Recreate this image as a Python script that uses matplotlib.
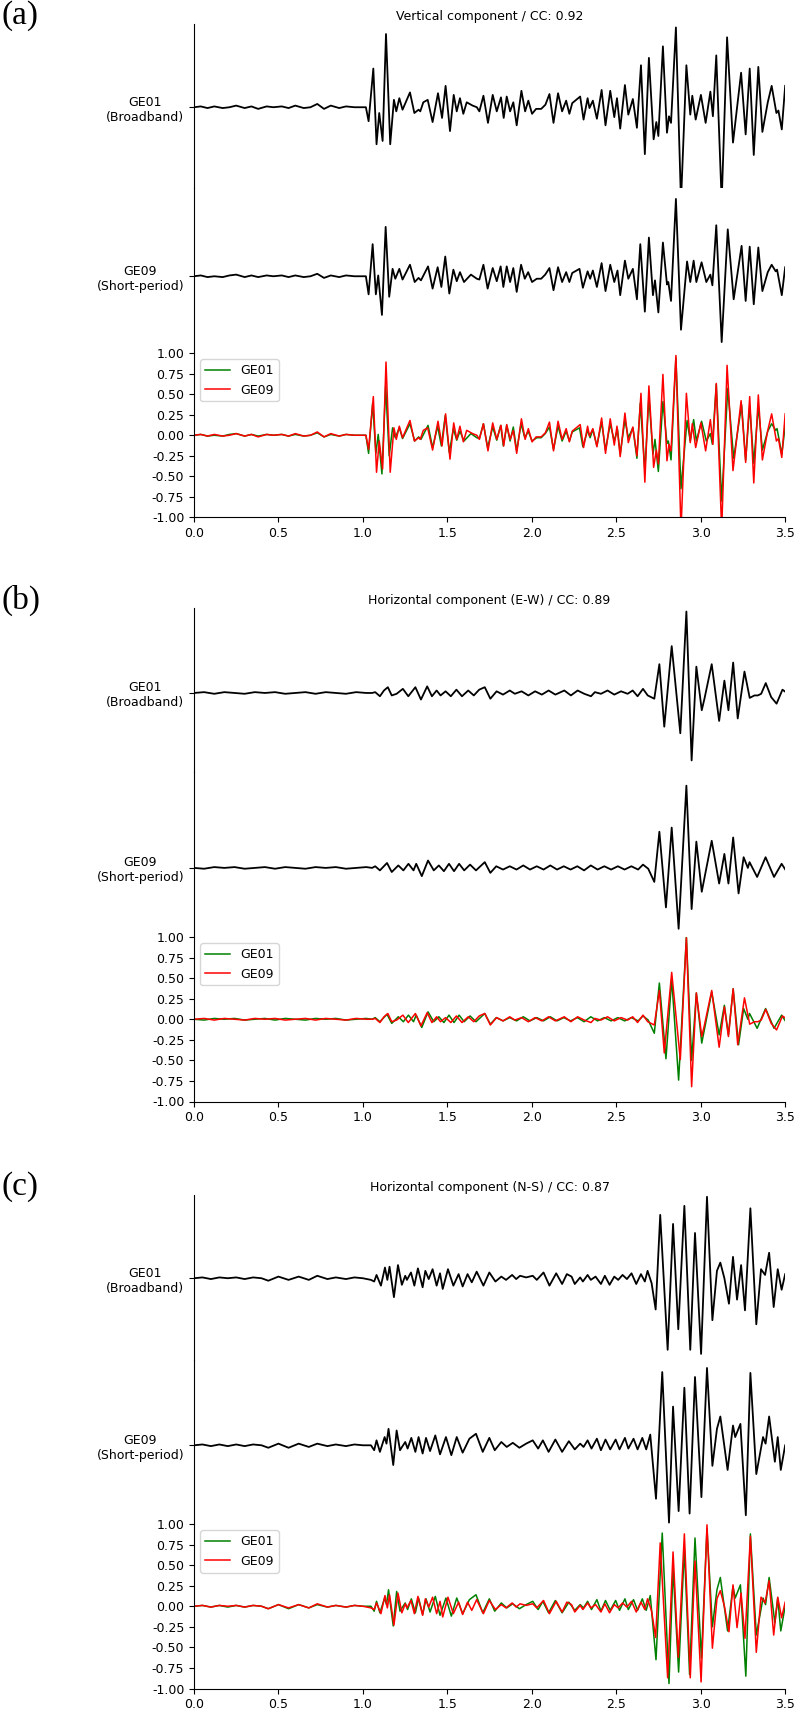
import matplotlib
matplotlib.use("Agg")
import matplotlib.pyplot as plt

# ---------------- (a) vertical component ----------------
# upper trace (GE01, broadband): time [s], normalised amplitude at the wiggle extremes
a_top_t = [0.0, 0.04, 0.08, 0.12, 0.17, 0.21, 0.25, 0.30, 0.34, 0.38, 0.43, 0.47, 0.52, 0.56, 0.60, 0.65,
           0.69, 0.73, 0.77, 0.81, 0.86, 0.90, 0.95, 0.99,
           1.018, 1.034, 1.062, 1.081, 1.097, 1.117, 1.137, 1.162, 1.184, 1.198, 1.216, 1.235, 1.279, 1.305,
           1.33, 1.34, 1.358, 1.384, 1.413, 1.445, 1.469, 1.49, 1.516, 1.538, 1.556, 1.575, 1.595, 1.615,
           1.65, 1.675, 1.69, 1.714, 1.741, 1.769, 1.793, 1.818, 1.834, 1.852, 1.872, 1.891, 1.911, 1.939,
           1.961, 1.98, 2.002, 2.026, 2.056, 2.081, 2.105, 2.129, 2.156, 2.18, 2.204, 2.223, 2.24, 2.287,
           2.307, 2.331, 2.342, 2.362, 2.386, 2.414, 2.437, 2.465, 2.489, 2.505, 2.524, 2.552, 2.572, 2.599,
           2.623, 2.647, 2.67, 2.694, 2.722, 2.738, 2.75, 2.777, 2.801, 2.813, 2.825, 2.854, 2.884, 2.916,
           2.939, 2.951, 2.971, 3.002, 3.03, 3.058, 3.073, 3.093, 3.125, 3.157, 3.192, 3.24, 3.267, 3.291,
           3.315, 3.342, 3.366, 3.398, 3.421, 3.449, 3.461, 3.481, 3.501]
a_top_v = [0.0, 0.01, -0.01, 0.01, -0.01, 0.0, 0.02, -0.01, 0.01, -0.02, 0.01, 0.0, 0.01, -0.01, 0.02, -0.01,
           0.0, 0.04, -0.02, 0.02, -0.01, 0.01, 0.0, 0.0,
           0.0, -0.17, 0.47, -0.45, -0.07, -0.41, 0.89, -0.45, 0.09, -0.05, 0.11, -0.03, 0.18, -0.07,
           -0.03, -0.05, 0.06, 0.09, -0.18, 0.17, -0.13, 0.26, -0.29, 0.15, -0.05, 0.11, -0.08, 0.06,
           0.02, 0.0, -0.05, 0.14, -0.19, 0.15, -0.05, 0.12, -0.13, 0.13, -0.05, 0.06, -0.22, 0.2,
           -0.05, 0.08, -0.08, -0.02, -0.02, 0.03, 0.16, -0.19, 0.17, -0.05, 0.08, -0.08, 0.05, 0.13,
           -0.15, 0.11, -0.01, 0.08, -0.14, 0.21, -0.22, 0.2, -0.12, 0.11, -0.26, 0.27, -0.09, 0.10,
           -0.25, 0.51, -0.57, 0.60, -0.39, -0.18, -0.35, 0.74, -0.31, -0.11, -0.19, 0.97, -1.15, 0.51,
           -0.09, 0.14, -0.15, 0.15, -0.19, 0.19, -0.11, 0.63, -1.15, 0.85, -0.43, 0.42, -0.33, 0.47,
           -0.58, 0.49, -0.30, 0.06, 0.26, -0.07, -0.04, -0.27, 0.26]
# lower trace (GE09, short-period)
a_bot_t = [0.0, 0.04, 0.08, 0.12, 0.17, 0.21, 0.25, 0.30, 0.34, 0.38, 0.43, 0.47, 0.52, 0.56, 0.60, 0.65,
           0.69, 0.73, 0.77, 0.81, 0.86, 0.90, 0.95, 0.99,
           1.018, 1.034, 1.058, 1.077, 1.091, 1.113, 1.135, 1.156, 1.176, 1.192, 1.216, 1.235, 1.279, 1.307,
           1.33, 1.344, 1.386, 1.413, 1.443, 1.465, 1.488, 1.512, 1.536, 1.556, 1.575, 1.599, 1.64, 1.675,
           1.69, 1.714, 1.739, 1.769, 1.793, 1.816, 1.832, 1.852, 1.872, 1.891, 1.911, 1.937, 1.959, 1.979,
           2.002, 2.03, 2.056, 2.08, 2.105, 2.129, 2.156, 2.18, 2.204, 2.223, 2.24, 2.283, 2.303, 2.331,
           2.346, 2.362, 2.386, 2.414, 2.437, 2.465, 2.489, 2.508, 2.524, 2.552, 2.572, 2.599, 2.623, 2.643,
           2.67, 2.694, 2.718, 2.73, 2.75, 2.777, 2.801, 2.809, 2.825, 2.854, 2.884, 2.92, 2.939, 2.959,
           2.975, 3.006, 3.034, 3.058, 3.07, 3.093, 3.125, 3.161, 3.196, 3.243, 3.267, 3.291, 3.315, 3.342,
           3.366, 3.398, 3.421, 3.445, 3.453, 3.481, 3.501]
a_bot_v = [0.0, 0.01, -0.01, 0.0, -0.01, 0.01, 0.02, -0.01, 0.01, -0.01, 0.01, 0.0, 0.01, -0.01, 0.01, -0.01,
           0.0, 0.03, -0.02, 0.01, -0.01, 0.01, 0.0, 0.0,
           0.0, -0.22, 0.39, -0.22, 0.01, -0.47, 0.60, -0.25, 0.09, -0.03, 0.09, -0.04, 0.14, -0.07,
           -0.02, -0.05, 0.12, -0.15, 0.11, -0.13, 0.24, -0.21, 0.08, -0.06, 0.05, -0.07, 0.02, -0.03,
           -0.04, 0.14, -0.15, 0.10, -0.06, 0.12, -0.13, 0.12, -0.07, 0.10, -0.19, 0.14, -0.03, 0.05,
           -0.07, -0.03, -0.03, 0.02, 0.10, -0.17, 0.11, -0.07, 0.05, -0.07, 0.04, 0.09, -0.14, 0.06,
           -0.03, 0.07, -0.13, 0.16, -0.18, 0.14, -0.07, 0.07, -0.23, 0.19, -0.03, 0.09, -0.28, 0.39,
           -0.43, 0.47, -0.23, -0.05, -0.44, 0.41, -0.10, -0.07, -0.30, 0.94, -0.65, 0.18, -0.07, 0.19,
           -0.07, 0.17, -0.07, 0.02, -0.11, 0.62, -0.80, 0.57, -0.28, 0.37, -0.30, 0.36, -0.34, 0.35,
           -0.18, 0.05, 0.14, 0.06, 0.08, -0.23, 0.11]

# ---------------- (b) horizontal E-W ----------------
b_top_t = [0.0, 0.06, 0.12, 0.18, 0.24, 0.30, 0.36, 0.42, 0.48, 0.54, 0.60, 0.66, 0.72, 0.78, 0.84, 0.90,
           0.96, 1.02,
           1.055, 1.073, 1.101, 1.125, 1.148, 1.171, 1.2, 1.237, 1.269, 1.311, 1.344, 1.381, 1.409, 1.437,
           1.46, 1.49, 1.521, 1.554, 1.587, 1.624, 1.657, 1.689, 1.722, 1.755, 1.792, 1.83, 1.87, 1.9,
           1.94, 1.98, 2.02, 2.06, 2.1, 2.14, 2.193, 2.232, 2.272, 2.311, 2.351, 2.374, 2.41, 2.449,
           2.489, 2.529, 2.568, 2.598, 2.627, 2.659, 2.687, 2.726, 2.756, 2.785, 2.829, 2.88, 2.916, 2.947,
           2.975, 3.007, 3.023, 3.066, 3.11, 3.141, 3.165, 3.193, 3.22, 3.26, 3.291, 3.319, 3.339, 3.359,
           3.386, 3.418, 3.45, 3.485, 3.505]
b_top_v = [0.0, 0.01, -0.01, 0.01, 0.0, -0.01, 0.01, 0.0, 0.01, -0.01, 0.0, 0.01, -0.01, 0.01, 0.0, -0.01,
           0.01, 0.0,
           0.0, 0.01, -0.04, 0.03, 0.07, -0.03, -0.01, 0.05, -0.04, 0.07, -0.08, 0.08, -0.04, 0.03,
           -0.03, 0.02, -0.04, 0.04, -0.04, 0.03, -0.03, 0.04, 0.07, -0.07, 0.02, -0.02, 0.03, -0.01,
           0.02, -0.03, 0.02, -0.02, 0.03, -0.02, 0.03, -0.03, 0.03, -0.01, -0.04, 0.01, -0.01, 0.03,
           -0.02, 0.02, -0.01, 0.03, -0.04, 0.05, -0.03, -0.07, 0.35, -0.41, 0.57, -0.49, 0.99, -0.82,
           0.32, -0.21, -0.07, 0.35, -0.34, 0.15, -0.21, 0.37, -0.31, 0.26, -0.06, -0.03, -0.03, -0.01,
           0.12, -0.05, -0.13, 0.04, 0.01]
b_bot_t = [0.0, 0.06, 0.12, 0.18, 0.24, 0.30, 0.36, 0.42, 0.48, 0.54, 0.60, 0.66, 0.72, 0.78, 0.84, 0.90,
           0.96, 1.02,
           1.055, 1.073, 1.101, 1.143, 1.171, 1.21, 1.24, 1.27, 1.3, 1.316, 1.349, 1.386, 1.42, 1.45,
           1.48, 1.51, 1.54, 1.57, 1.6, 1.635, 1.67, 1.722, 1.755, 1.79, 1.83, 1.87, 1.91, 1.95,
           1.99, 2.03, 2.07, 2.11, 2.15, 2.19, 2.23, 2.27, 2.31, 2.35, 2.39, 2.43, 2.47, 2.51,
           2.55, 2.59, 2.63, 2.659, 2.69, 2.726, 2.756, 2.795, 2.829, 2.87, 2.916, 2.947, 2.975, 3.007,
           3.066, 3.11, 3.141, 3.165, 3.193, 3.225, 3.255, 3.28, 3.29, 3.335, 3.385, 3.435, 3.48, 3.505]
b_bot_v = [0.0, -0.01, 0.01, 0.0, 0.01, -0.01, 0.0, 0.01, -0.01, 0.01, 0.0, -0.01, 0.01, 0.0, 0.01, -0.01,
           0.0, 0.01,
           0.0, 0.02, -0.03, 0.06, -0.05, 0.03, -0.03, 0.05, -0.03, 0.05, -0.10, 0.09, -0.03, 0.03,
           -0.04, 0.05, -0.04, 0.05, -0.03, 0.04, -0.03, 0.07, -0.06, 0.02, -0.02, 0.02, -0.02, 0.03,
           -0.02, 0.02, -0.02, 0.03, -0.02, 0.02, -0.02, 0.02, -0.03, 0.03, -0.02, 0.02, -0.02, 0.02,
           -0.02, 0.02, -0.02, 0.04, -0.01, -0.17, 0.44, -0.48, 0.49, -0.74, 1.0, -0.5, 0.32, -0.29,
           0.33, -0.19, 0.17, -0.19, 0.37, -0.31, 0.13, 0.0, 0.07, -0.11, 0.13, -0.11, 0.05, -0.03]

# ---------------- (c) horizontal N-S ----------------
c_top_t = [0.0, 0.05, 0.10, 0.15, 0.20, 0.25, 0.30, 0.35, 0.40, 0.44, 0.50, 0.56, 0.62, 0.68, 0.73, 0.79,
           0.84, 0.90, 0.95, 1.00,
           1.048, 1.067, 1.081, 1.107, 1.131, 1.145, 1.158, 1.184, 1.208, 1.231, 1.251, 1.261, 1.285, 1.305,
           1.326, 1.354, 1.37, 1.39, 1.413, 1.437, 1.457, 1.473, 1.504, 1.536, 1.567, 1.591, 1.62, 1.645,
           1.674, 1.714, 1.749, 1.785, 1.82, 1.848, 1.884, 1.908, 1.931, 1.967, 2.006, 2.03, 2.07, 2.105,
           2.145, 2.18, 2.208, 2.236, 2.255, 2.287, 2.303, 2.331, 2.35, 2.378, 2.41, 2.433, 2.461, 2.489,
           2.512, 2.538, 2.564, 2.591, 2.619, 2.647, 2.67, 2.686, 2.71, 2.734, 2.761, 2.805, 2.837, 2.868,
           2.904, 2.939, 2.967, 3.003, 3.038, 3.07, 3.097, 3.117, 3.141, 3.168, 3.192, 3.216, 3.24, 3.263,
           3.295, 3.33, 3.358, 3.382, 3.406, 3.433, 3.457, 3.48, 3.501]
c_top_v = [0.0, 0.01, -0.01, 0.01, 0.0, 0.01, -0.01, 0.01, 0.0, -0.03, 0.02, -0.02, 0.02, -0.02, 0.03, -0.01,
           0.01, -0.01, 0.01, 0.0,
           -0.02, -0.04, 0.04, -0.09, 0.13, -0.02, 0.14, -0.23, 0.16, -0.08, 0.03, -0.02, 0.07, -0.09,
           0.12, -0.11, 0.09, -0.01, 0.11, -0.09, 0.06, -0.13, 0.11, -0.09, 0.05, -0.10, 0.05, -0.05,
           0.08, -0.09, 0.07, -0.04, 0.02, -0.02, 0.04, -0.01, 0.03, 0.01, 0.03, -0.02, 0.07, -0.09,
           0.06, -0.07, 0.05, 0.02, -0.07, 0.01, -0.04, 0.04, -0.02, 0.02, -0.07, 0.03, -0.08, 0.02,
           -0.02, 0.04, -0.01, 0.06, -0.07, 0.05, -0.04, 0.09, -0.06, -0.38, 0.77, -0.87, 0.66, -0.62,
           0.88, -0.87, 0.55, -0.92, 0.99, -0.51, 0.09, 0.19, 0.0, -0.31, 0.26, -0.26, 0.16, -0.39,
           0.85, -0.56, 0.11, 0.04, 0.31, -0.35, 0.11, -0.14, 0.05]
c_bot_t = [0.0, 0.05, 0.10, 0.15, 0.20, 0.25, 0.30, 0.35, 0.40, 0.44, 0.50, 0.56, 0.62, 0.68, 0.73, 0.79,
           0.84, 0.90, 0.95, 1.00,
           1.048, 1.067, 1.081, 1.101, 1.129, 1.14, 1.152, 1.18, 1.2, 1.22, 1.232, 1.251, 1.265, 1.287,
           1.311, 1.33, 1.354, 1.374, 1.398, 1.429, 1.457, 1.492, 1.524, 1.556, 1.591, 1.631, 1.67, 1.71,
           1.749, 1.781, 1.82, 1.852, 1.888, 1.927, 1.967, 2.006, 2.038, 2.066, 2.1, 2.14, 2.18, 2.22,
           2.255, 2.287, 2.307, 2.331, 2.354, 2.386, 2.41, 2.437, 2.465, 2.497, 2.52, 2.552, 2.572, 2.603,
           2.627, 2.655, 2.678, 2.702, 2.736, 2.773, 2.813, 2.837, 2.87, 2.904, 2.935, 2.967, 3.005, 3.038,
           3.07, 3.097, 3.117, 3.16, 3.192, 3.205, 3.236, 3.268, 3.295, 3.33, 3.37, 3.385, 3.406, 3.44,
           3.457, 3.475, 3.501]
c_bot_v = [0.0, 0.01, -0.01, 0.01, -0.01, 0.01, -0.01, 0.01, 0.0, -0.03, 0.02, -0.03, 0.02, -0.02, 0.02, -0.01,
           0.01, -0.01, 0.01, 0.0,
           0.0, -0.06, 0.06, -0.08, 0.10, 0.02, 0.20, -0.24, 0.18, -0.06, -0.02, 0.04, -0.04, 0.09,
           -0.08, 0.10, -0.10, 0.09, -0.07, 0.12, -0.11, 0.10, -0.12, 0.10, -0.09, 0.08, 0.14, -0.08,
           0.09, -0.06, 0.04, -0.02, 0.03, -0.03, 0.02, 0.06, -0.04, 0.06, -0.08, 0.07, -0.08, 0.05,
           -0.05, 0.02, -0.02, 0.06, -0.04, 0.08, -0.06, 0.07, -0.05, 0.07, -0.05, 0.09, -0.04, 0.08,
           -0.05, 0.09, -0.05, 0.13, -0.65, 0.89, -0.94, 0.47, -0.80, 0.70, -0.83, 0.83, -0.63, 0.94,
           -0.25, 0.20, 0.35, -0.30, 0.24, 0.10, 0.26, -0.85, 0.88, -0.35, 0.10, 0.02, 0.35, -0.20,
           0.10, -0.30, 0.0]

traces = [[(a_top_t, a_top_v), (a_bot_t, a_bot_v)],
          [(b_top_t, b_top_v), (b_bot_t, b_bot_v)],
          [(c_top_t, c_top_v), (c_bot_t, c_bot_v)]]

titles = ["Vertical component / CC: 0.92",
          "Horizontal component (E-W) / CC: 0.89",
          "Horizontal component (N-S) / CC: 0.87"]
tags = ["(a)", "(b)", "(c)"]
row_labels = ["GE01\n(Broadband)", "GE09\n(Short-period)"]
amp_ticks = [-1.0, -0.75, -0.5, -0.25, 0.0, 0.25, 0.5, 0.75, 1.0]
time_ticks = [0.0, 0.5, 1.0, 1.5, 2.0, 2.5, 3.0, 3.5]

# layout in pixels of the 800x1710 canvas
W, H = 800, 1710
LEFT, WIDTH = 194, 591
panel_tops = [24, 608, 1195]
row_h = 164.5
base_shift = [(0.012, 0.067), (0.033, 0.16), (0.012, 0.043)]
FS = 9.0


def box(top, h):
    return [LEFT / W, 1 - (top + h) / H, WIDTH / W, h / H]


fig = plt.figure(figsize=(8, 17.1), dpi=100)

for k in range(3):
    top = panel_tops[k]
    ax1 = fig.add_axes(box(top, row_h))
    ax2 = fig.add_axes(box(top + row_h, row_h))
    ax3 = fig.add_axes(box(top + 2 * row_h, row_h))

    for ax, (t, v), lab, sh in zip([ax1, ax2], traces[k], row_labels, base_shift[k]):
        ax.plot(t, v, color="black", lw=1.3)
        ax.set_xlim(0, 3.5)
        ax.set_ylim(sh - 1, sh + 1)
        ax.set_xticks([])
        ax.set_yticks([0])
        ax.set_yticklabels([lab], multialignment="center", fontsize=FS)
        for s in ["top", "right", "bottom"]:
            ax.spines[s].set_visible(False)
        ax.patch.set_alpha(0)

    ax1.set_title(titles[k], fontsize=FS, pad=3)

    # overlay: red follows the upper trace, green the lower one (as in the figure)
    (tt, tv), (bt, bv) = traces[k]
    ax3.plot(bt, bv, color="green", lw=1.1, label="GE01")
    ax3.plot(tt, tv, color="red", lw=1.1, label="GE09")
    ax3.set_xlim(0, 3.5)
    ax3.set_ylim(-1, 1)
    ax3.set_yticks(amp_ticks)
    ax3.set_yticklabels(["%.2f" % y for y in amp_ticks])
    ax3.set_xticks(time_ticks)
    ax3.set_xticklabels(["%.1f" % x for x in time_ticks])
    ax3.tick_params(labelsize=FS)
    ax3.spines["top"].set_visible(False)
    ax3.spines["right"].set_visible(False)
    ax3.patch.set_alpha(0)
    ax3.legend(loc="upper left", fontsize=FS)

    fig.text(0.002, 1 - (top - 8) / H, tags[k], family="Liberation Serif",
             fontsize=24, ha="left", va="center")

fig.savefig("out.png", dpi=100)
